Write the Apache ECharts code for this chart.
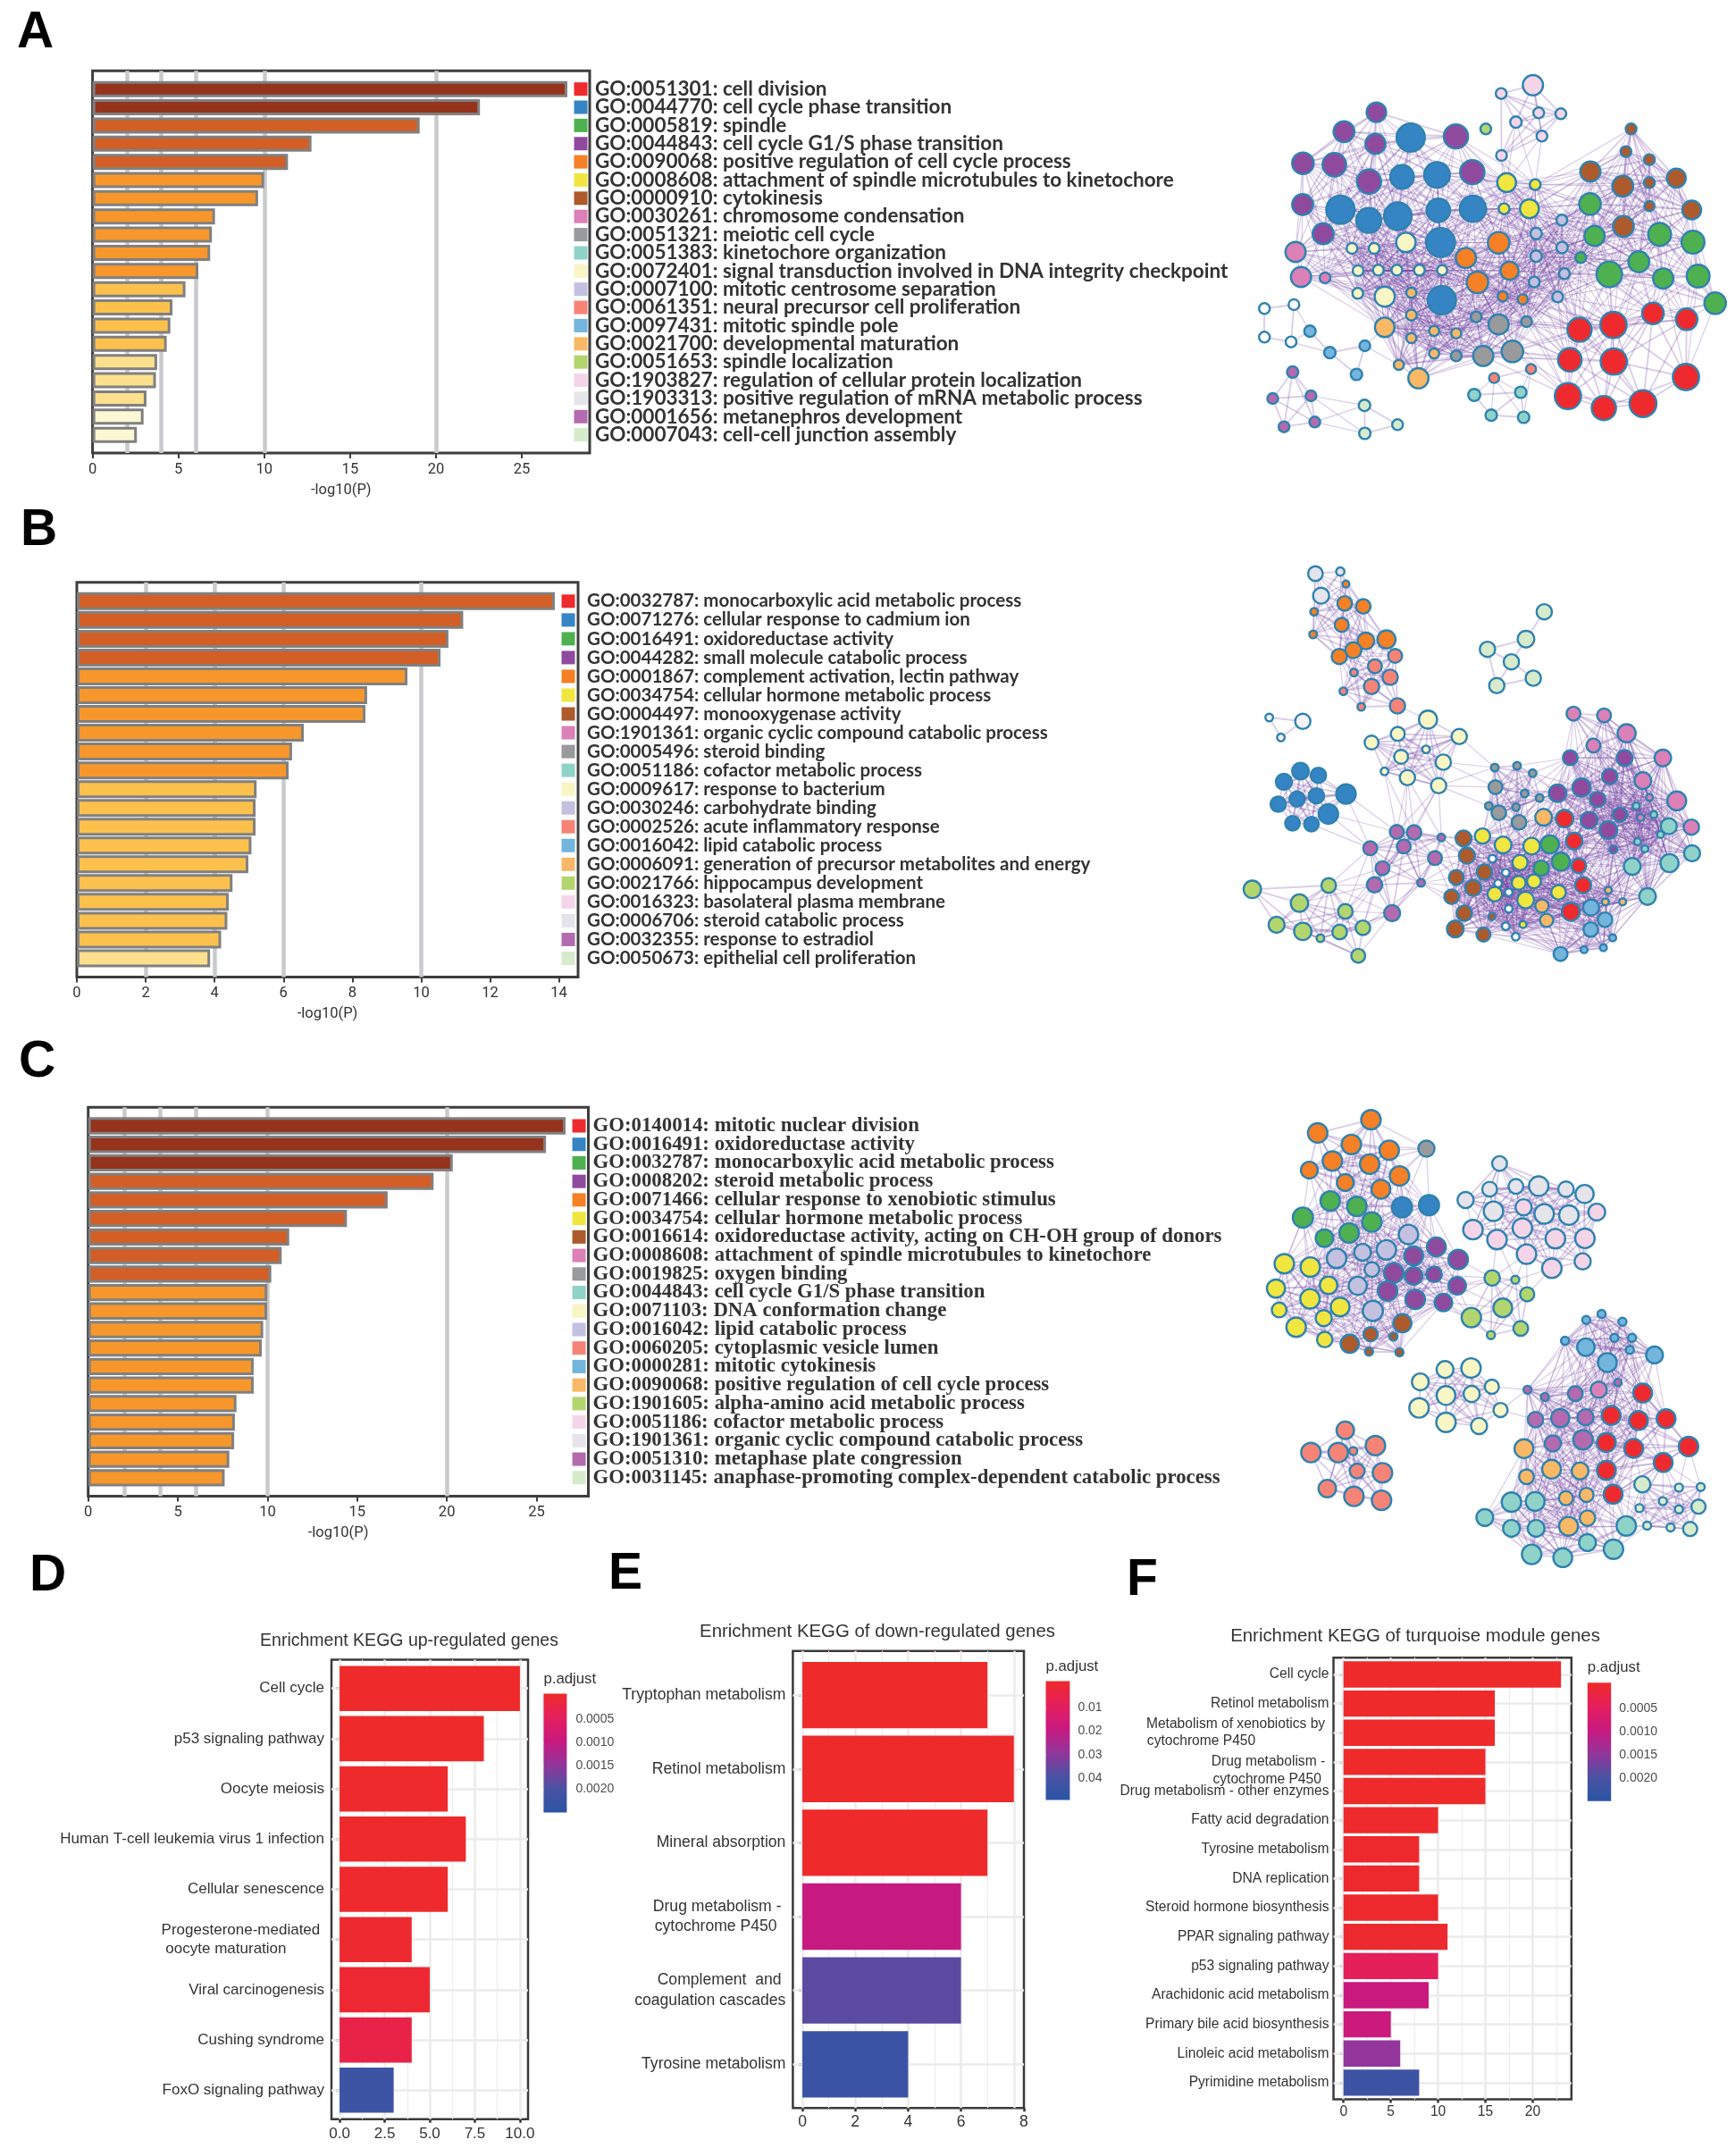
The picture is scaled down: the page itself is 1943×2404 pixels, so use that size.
<!DOCTYPE html>
<html>
<head>
<meta charset="utf-8">
<style>html,body{margin:0;background:#fff}#chart{width:1943px;height:2404px}</style>
<script src="https://cdn.jsdelivr.net/npm/echarts@6/dist/echarts.min.js"></script>
</head>
<body>
<div id="chart"></div>
<script>
// legend order of the GO terms, 20/21 are the near white nodes
const groupColors = ['#ee2a2e', '#3585c5', '#4fb050', '#8f4a9e', '#f58025', '#f0e63f', '#ad5a2c', '#dc80b8', '#999a9c', '#8fd3c8',
  '#f7f6c4', '#c3c0e0', '#f58477', '#73b5dd', '#f9b865', '#b3d56e', '#f4d5e8', '#e4e4ea', '#b36aae', '#d5ebcb', '#f5f2fa', '#ffffff']

const labelsA = ['GO:0051301: cell division', 'GO:0044770: cell cycle phase transition', 'GO:0005819: spindle', 'GO:0044843: cell cycle G1/S phase transition', 'GO:0090068: positive regulation of cell cycle process', 'GO:0008608: attachment of spindle microtubules to kinetochore', 'GO:0000910: cytokinesis', 'GO:0030261: chromosome condensation', 'GO:0051321: meiotic cell cycle', 'GO:0051383: kinetochore organization', 'GO:0072401: signal transduction involved in DNA integrity checkpoint', 'GO:0007100: mitotic centrosome separation', 'GO:0061351: neural precursor cell proliferation', 'GO:0097431: mitotic spindle pole', 'GO:0021700: developmental maturation', 'GO:0051653: spindle localization', 'GO:1903827: regulation of cellular protein localization', 'GO:1903313: positive regulation of mRNA metabolic process', 'GO:0001656: metanephros development', 'GO:0007043: cell-cell junction assembly']
const valuesA = [27.65, 22.56, 19.05, 12.75, 11.38, 9.99, 9.64, 7.13, 6.95, 6.85, 6.16, 5.41, 4.65, 4.53, 4.32, 3.76, 3.69, 3.14, 2.97, 2.58]
const ticksA = [0, 5, 10, 15, 20, 25]

const labelsB = ['GO:0032787: monocarboxylic acid metabolic process', 'GO:0071276: cellular response to cadmium ion', 'GO:0016491: oxidoreductase activity', 'GO:0044282: small molecule catabolic process', 'GO:0001867: complement activation, lectin pathway', 'GO:0034754: cellular hormone metabolic process', 'GO:0004497: monooxygenase activity', 'GO:1901361: organic cyclic compound catabolic process', 'GO:0005496: steroid binding', 'GO:0051186: cofactor metabolic process', 'GO:0009617: response to bacterium', 'GO:0030246: carbohydrate binding', 'GO:0002526: acute inflammatory response', 'GO:0016042: lipid catabolic process', 'GO:0006091: generation of precursor metabolites and energy', 'GO:0021766: hippocampus development', 'GO:0016323: basolateral plasma membrane', 'GO:0006706: steroid catabolic process', 'GO:0032355: response to estradiol', 'GO:0050673: epithelial cell proliferation']
const valuesB = [13.88, 11.22, 10.79, 10.56, 9.6, 8.43, 8.38, 6.59, 6.25, 6.15, 5.22, 5.19, 5.19, 5.07, 4.98, 4.52, 4.41, 4.37, 4.19, 3.87]
const ticksB = [0, 2, 4, 6, 8, 10, 12, 14]

const labelsC = ['GO:0140014: mitotic nuclear division', 'GO:0016491: oxidoreductase activity', 'GO:0032787: monocarboxylic acid metabolic process', 'GO:0008202: steroid metabolic process', 'GO:0071466: cellular response to xenobiotic stimulus', 'GO:0034754: cellular hormone metabolic process', 'GO:0016614: oxidoreductase activity, acting on CH-OH group of donors', 'GO:0008608: attachment of spindle microtubules to kinetochore', 'GO:0019825: oxygen binding', 'GO:0044843: cell cycle G1/S phase transition', 'GO:0071103: DNA conformation change', 'GO:0016042: lipid catabolic process', 'GO:0060205: cytoplasmic vesicle lumen', 'GO:0000281: mitotic cytokinesis', 'GO:0090068: positive regulation of cell cycle process', 'GO:1901605: alpha-amino acid metabolic process', 'GO:0051186: cofactor metabolic process', 'GO:1901361: organic cyclic compound catabolic process', 'GO:0051310: metaphase plate congression', 'GO:0031145: anaphase-promoting complex-dependent catabolic process']
const valuesC = [26.62, 25.53, 20.33, 19.26, 16.7, 14.43, 11.21, 10.79, 10.21, 9.99, 9.98, 9.76, 9.68, 9.23, 9.23, 8.27, 8.18, 8.14, 7.87, 7.61]
const ticksC = [0, 5, 10, 15, 20, 25]

const guideLines = [2, 4, 6, 10, 20]

const labelsD = ['Cell cycle', 'p53 signaling pathway', 'Oocyte meiosis', 'Human T-cell leukemia virus 1 infection', 'Cellular senescence', 'Progesterone-mediated \noocyte maturation         ', 'Viral carcinogenesis', 'Cushing syndrome', 'FoxO signaling pathway']
const valuesD = [10, 8, 6, 7, 6, 4, 5, 4, 3]
const padjD = [0.00001, 0.00001, 0.00002, 0.00002, 0.00002, 0.00006, 0.00008, 0.0003, 0.0022]
const ticksD = [0, 2.5, 5, 7.5, 10]
const minorD = [1.25, 3.75, 6.25, 8.75]
const legendD = [0.0005, 0.001, 0.0015, 0.002]

const labelsE = ['Tryptophan metabolism', 'Retinol metabolism', 'Mineral absorption', 'Drug metabolism - \ncytochrome P450  ', 'Complement  and \ncoagulation cascades', 'Tyrosine metabolism']
const valuesE = [7, 8, 7, 6, 6, 4]
const padjE = [0.0002, 0.0002, 0.0002, 0.02, 0.037, 0.044]
// the 8 sits on the right edge of the frame in the picture, not at 8 on the scale
const ticksE = [0, 2, 4, 6, 8.38]
const gridE = [0, 2, 4, 6, 8]
const minorE = [1, 3, 5, 7]
const legendE = [0.01, 0.02, 0.03, 0.04]

const labelsF = ['Cell cycle', 'Retinol metabolism', 'Metabolism of xenobiotics by \ncytochrome P450                   ', ' \nDrug metabolism - \ncytochrome P450  ', 'Drug metabolism - other enzymes', 'Fatty acid degradation', 'Tyrosine metabolism', 'DNA replication', 'Steroid hormone biosynthesis', 'PPAR signaling pathway', 'p53 signaling pathway', 'Arachidonic acid metabolism', 'Primary bile acid biosynthesis', 'Linoleic acid metabolism', 'Pyrimidine metabolism']
const valuesF = [23, 16, 16, 15, 15, 10, 8, 8, 10, 11, 10, 9, 5, 6, 8]
const padjF = [0.00001, 0.00001, 0.00001, 0.00001, 0.00001, 0.00002, 0.00003, 0.00003, 0.00003, 0.00006, 0.00048, 0.00098, 0.00095, 0.0015, 0.0022]
const ticksF = [0, 5, 10, 15, 20]
const minorF = [2.5, 7.5, 12.5, 17.5, 22.5]
const legendF = [0.0005, 0.001, 0.0015, 0.002]

// network nodes: x, y, radius, group
const nodesA = [[447,197,29,3],[346,262,31,3],[444,303,30,3],[695,278,36,3],[218,368,32,3],[316,373,35,3],[424,430,36,3],[746,398,36,3],[217,507,31,3],[281,605,31,3],
  [554,282,42,1],[527,414,35,1],[636,407,38,1],[335,524,42,1],[423,560,37,1],[514,546,41,1],[640,526,35,1],[748,521,39,1],[647,634,43,1],[651,828,42,1],
  [788,253,16,15],[935,106,30,16],[836,134,16,16],[882,230,17,16],[953,199,16,16],[1022,202,16,16],[963,277,16,16],[837,342,16,16],
  [853,433,28,5],[942,440,16,5],[845,521,16,5],[924,521,28,5],
  [1241,253,16,6],[1225,329,16,6],[1298,356,16,6],[1114,396,30,6],[1215,445,31,6],[1298,433,16,6],[1382,418,28,6],[1298,512,15,6],[1430,525,28,6],[1217,580,31,6],
  [1113,505,32,2],[1127,612,30,2],[1330,607,34,2],[1434,633,34,2],[1084,685,16,2],[1265,699,31,2],[1173,741,38,2],[1341,755,30,2],[1450,747,34,2],[1503,838,32,2],
  [1025,559,16,11],[945,604,17,11],[1026,651,17,11],[945,680,17,11],[1033,739,16,11],[939,767,16,11],[1012,817,16,11],
  [828,635,32,4],[726,686,30,4],[862,729,27,4],[762,768,32,4],[841,815,15,4],[903,825,15,4],
  [539,634,29,10],[371,654,16,10],[440,654,16,10],[390,729,16,10],[453,727,16,10],[511,727,16,10],[581,727,16,10],[652,727,15,10],[389,805,16,10],[473,816,30,10],
  [195,666,30,7],[212,750,30,7],[287,753,16,7],
  [556,803,15,14],[556,878,16,14],[473,919,29,14],[556,955,15,14],[627,931,15,14],[696,939,15,14],[627,1007,15,14],[517,1045,15,14],[578,1090,30,14],
  [758,884,16,8],[828,909,30,8],[915,900,16,8],[871,1000,32,8],[780,1015,30,8],[696,1015,16,8],
  [240,932,17,13],[302,1004,17,13],[411,981,16,13],[385,1077,17,13],
  [98,856,16,21],[190,843,16,21],[98,952,16,21],[181,968,16,21],
  [186,1069,17,18],[124,1158,16,18],[243,1149,16,18],[159,1253,16,18],[255,1237,16,18],
  [410,1181,17,19],[513,1246,16,19],[411,1275,17,19],
  [929,1059,15,12],[814,1089,15,12],
  [752,1146,18,9],[897,1137,17,9],[805,1214,17,9],[906,1221,17,9],
  [1080,927,36,0],[1186,911,39,0],[1309,872,32,0],[1414,892,32,0],[1050,1028,35,0],[1187,1034,39,0],[1412,1086,39,0],[1044,1150,39,0],[1156,1190,36,0],[1278,1175,40,0]]

const nodesB = [[302,66,21,17],[377,59,12,17],[319,140,23,17],
  [394,101,10,4],[390,166,21,4],[446,176,21,4],[298,194,11,4],[381,238,20,4],[295,270,11,4],[454,292,24,4],[516,287,26,4],[416,323,23,4],[374,344,22,4],
  [542,342,20,12],[481,377,20,12],[418,398,11,12],[527,414,22,12],[471,445,22,12],[386,461,11,12],[440,513,11,12],[549,510,22,12],
  [991,194,22,19],[936,286,24,19],[820,320,22,19],[892,362,22,19],[958,417,22,19],[848,442,22,19],
  [163,549,11,20],[264,562,22,20],[198,616,11,20],
  [641,556,26,10],[550,604,20,10],[471,633,20,10],[735,613,22,10],[635,656,11,10],[560,681,20,10],[687,699,22,10],[510,730,11,10],[579,751,22,10],[673,778,22,10],
  [257,729,24,1],[311,743,22,1],[207,765,23,1],[394,806,28,1],[305,812,22,1],[247,823,22,1],[190,840,22,1],[341,873,28,1],[233,904,21,1],[290,907,21,1],
  [842,717,11,8],[909,711,11,8],[956,736,11,8],[844,783,20,8],[932,804,11,8],[977,819,11,8],[824,846,11,8],[906,850,11,8],[854,869,21,8],[915,901,21,8],
  [547,933,20,18],[599,935,21,18],[681,952,11,18],[568,982,20,18],[467,988,20,18],[662,1021,20,18],[504,1055,20,18],[620,1104,11,18],[480,1111,22,18],[533,1206,23,18],
  [112,1126,25,15],[342,1113,21,15],[254,1172,25,15],[392,1200,21,15],[185,1245,23,15],[264,1267,25,15],[375,1269,21,15],[445,1255,21,15],[317,1290,11,15],[431,1349,20,15],
  [748,955,23,6],[758,1013,23,6],[811,1068,22,6],[726,1086,21,6],[777,1121,23,6],[712,1151,21,6],[750,1206,22,6],[833,1218,10,6],[723,1259,24,6],[808,1278,20,6],
  [805,947,22,5],[867,977,24,5],[953,981,24,5],[918,1036,22,5],[914,1104,20,5],[960,1099,20,5],[842,1142,21,5],[1034,1136,21,5],[935,1162,24,5],[927,1244,10,5],
  [835,1023,11,21],[875,1070,11,21],[852,1106,11,21],[884,1136,11,21],[884,1191,11,21],[875,1250,11,21],[905,1285,11,21],
  [1008,975,26,2],[1041,1033,26,2],[982,1055,22,2],
  [1052,889,25,0],[1081,964,24,0],[1095,1047,21,0],[1108,1112,23,0],[1071,1201,26,0],
  [989,884,24,14],[984,1182,19,14],[998,1230,19,14],[1184,1129,10,14],[1175,1168,10,14],[1227,1168,10,14],
  [1031,803,25,3],[1103,784,26,3],[1188,747,22,3],[1069,684,21,3],[1233,685,23,3],[1152,824,22,3],[1126,894,24,3],[1219,875,20,3],[1184,927,25,3],[1199,992,11,3],
  [1079,536,20,7],[1171,542,20,7],[1239,602,26,7],[1139,643,20,7],[1348,685,24,7],[1288,761,24,7],[1390,829,27,7],[1308,817,10,7],[1281,885,10,7],[1434,917,22,7],
  [1268,846,10,9],[1321,875,10,9],[1366,914,23,9],[1341,942,10,9],[1272,966,10,9],[1294,990,10,9],[1256,1049,24,9],[1368,1038,26,9],[1436,1005,23,9],[1302,1150,24,9],
  [1132,1187,23,13],[1174,1228,21,13],[1131,1261,21,13],[1197,1289,10,13],[1169,1322,10,13],[1111,1329,10,13],[1040,1343,20,13]]

const nodesC = [[430,98,29,4],[264,142,29,4],[369,180,29,4],[487,199,29,4],[310,235,29,4],[426,245,29,4],[238,265,25,4],[519,284,29,4],[350,306,25,4],[461,328,28,4],
  [603,194,24,8],[527,388,30,1],[611,381,30,1],
  [303,367,29,2],[386,385,29,2],[218,422,30,2],[433,437,29,2],[362,473,29,2],[285,490,26,2],
  [547,478,29,11],[404,537,25,11],[478,529,29,11],[323,557,29,11],[433,594,22,11],[389,648,27,11],[436,731,30,11],
  [634,519,28,3],[563,549,28,3],[702,561,29,3],[501,605,29,3],[563,615,26,3],[627,610,23,3],[699,648,26,3],[482,665,29,3],[568,693,29,3],[656,703,26,3],
  [160,575,29,5],[241,586,29,5],[134,657,27,5],[298,646,26,5],[240,691,29,5],[334,718,28,5],[144,728,22,5],[283,755,24,5],[197,785,29,5],[286,826,23,5],
  [528,772,27,6],[429,808,21,6],[364,840,27,6],[500,816,12,6],[424,866,12,6],[519,868,12,6],
  [808,622,23,15],[880,628,12,15],[917,676,21,15],[841,721,28,15],[743,753,29,15],[897,789,22,15],[804,811,12,15],
  [831,243,22,17],[800,328,22,17],[882,319,22,17],[953,318,29,17],[1038,328,23,17],[1096,344,27,17],[725,364,24,17],[812,401,29,17],[970,410,29,17],[1047,414,29,17],
  [906,388,24,16],[1134,404,25,16],[748,462,29,16],[902,457,29,16],[823,495,29,16],[1005,492,29,16],[1097,491,29,16],[915,543,29,16],[1090,567,24,16],[994,590,29,16],
  [1101,761,12,13],[1149,741,12,13],[1214,767,12,13],[1189,820,12,13],[1244,820,12,13],[1035,830,12,13],[1237,860,12,13],[1100,851,26,13],[1314,877,25,13],[1167,902,28,13],
  [661,925,25,10],[742,920,29,10],[584,966,25,10],[807,982,21,10],[664,1011,28,10],[744,1006,24,10],[580,1052,29,10],[834,1059,21,10],[664,1100,29,10],[767,1112,24,10],
  [918,992,12,18],[972,1016,12,18],[1067,1005,22,18],[1200,968,11,18],[943,1091,23,18],[1020,1086,27,18],[1099,1083,24,18],[997,1170,24,18],[1091,1158,29,18],
  [1140,992,24,7],
  [1277,1003,28,0],[1179,1077,28,0],[1264,1094,28,0],[1350,1088,28,0],[1164,1167,28,0],[1249,1186,28,0],[1420,1180,29,0],[1341,1233,28,0],[1164,1259,28,0],[1185,1338,28,0],
  [907,1187,28,14],[993,1255,28,14],[1082,1261,25,14],[915,1280,22,14],[1038,1351,21,14],[1102,1340,21,14],[1105,1417,23,14],[1046,1444,28,14],
  [350,1126,26,12],[444,1177,29,12],[243,1200,29,12],[328,1200,29,12],[375,1195,12,12],[387,1261,22,12],[466,1267,29,12],[294,1319,26,12],[377,1345,29,12],[463,1358,29,12],
  [1276,1305,24,19],[1390,1316,12,19],[1458,1314,12,19],[1340,1361,12,19],[1390,1388,12,19],[1451,1379,21,19],[1267,1384,12,19],[1291,1442,12,19],[1364,1448,12,19],[1425,1453,21,19],
  [868,1364,29,9],[942,1362,28,9],[785,1415,25,9],[868,1451,25,9],[945,1451,25,9],[1226,1443,29,9],[1105,1498,25,9],[1186,1520,29,9],[931,1537,29,9],[1028,1548,28,9]]

// the single edges can't be read from the picture, so they are approximated:
// two nodes are joined when their groups share a rule and they are closer than its distance
const linkRulesA = [[[0,1,2,3,4,5,6,7,8,10,11,14], 360], [[16,5,11], 240], [[21,13], 130], [[13,14], 130], [[18,19], 240], [[9,12], 170]]
const linkRulesB = [[[17,4,12], 210], [[10], 290], [[1], 190], [[8,5,3], 200], [[0,2,3,5,6,7,9,13,14,21], 270], [[18,15], 240], [[19], 130], [[20], 140], [[10,12], 110], [[10,8], 180], [[1,18], 230], [[10,18], 240], [[18,6], 180], [[3,7,9], 350]]
const linkRulesC = [[[4,8,1,2,11,3,5,6], 270], [[17,16], 250], [[15,3], 190], [[15,16], 170], [[13], 230], [[10], 250], [[12], 230], [[0,13,18,7,14,9], 300], [[19], 200], [[19,0,9], 170], [[10,18], 130]]

// panel geometry, in page pixels
const panelA = { labels: labelsA, values: valuesA, ticks: ticksA, rect: [103.6, 79.3, 556.4, 427.7], max: 28.95, swatch: 28.43, barWidth: 18, fontSize: 22.5, family: 'Lato', labelGap: 6 }
const panelB = { labels: labelsB, values: valuesB, ticks: ticksB, rect: [86, 651.8, 561, 441.7], max: 14.555, swatch: 14.27, barWidth: 20, fontSize: 20.5, family: 'Lato', labelGap: 10 }
const panelC = { labels: labelsC, values: valuesC, ticks: ticksC, rect: [98.7, 1239.3, 559.8, 435.2], max: 27.89, swatch: 27.37, barWidth: 19.3, fontSize: 22.8, family: '"Liberation Serif"', labelGap: 5 }

const panelD = { title: 'Enrichment KEGG up-regulated genes', titleX: 458, titleY: 1836.5, titleSize: 19.5, labels: labelsD, values: valuesD, padj: padjD, ticks: ticksD, gridTicks: ticksD, minor: minorD, digits: 1, frame: [371, 1857.4, 220, 514.4], innerTop: 1861.6, step: 56.2, min: -0.45, max: 10.45, fontSize: 17, family: '"Liberation Sans"', margin: 8, tickGap: 8,
  legend: legendD, legendDigits: 4, bar: [608.4, 1895.4, 26, 133.1], barRange: [-0.00006, 0.0025], legendTitleY: 1879, legendGap: 10 }
const panelE = { title: 'Enrichment KEGG of down-regulated genes', titleX: 982, titleY: 1826.5, titleSize: 20.4, labels: labelsE, values: valuesE, padj: padjE, ticks: ticksE, gridTicks: gridE, minor: minorE, digits: 0, frame: [887.4, 1847.8, 258.6, 511.4], innerTop: 1855.8, step: 82.64, min: -0.36, max: 8.38, fontSize: 17.6, family: '"Liberation Sans"', margin: 8, tickGap: 7,
  legend: legendE, legendDigits: 2, bar: [1170.5, 1881.4, 26.9, 133.1], barRange: [-0.001, 0.049], legendTitleY: 1865.3, legendGap: 9 }
const panelF = { title: 'Enrichment KEGG of turquoise module genes', titleX: 1584, titleY: 1831.7, titleSize: 20.4, labels: labelsF, values: valuesF, padj: padjF, ticks: ticksF, gridTicks: ticksF, minor: minorF, digits: 0, frame: [1492.5, 1855.3, 266.3, 494.3], innerTop: 1857.7, step: 32.63, min: -1.06, max: 24.1, fontSize: 15.6, family: '"Liberation Sans"', margin: 5, tickGap: 6,
  legend: legendF, legendDigits: 4, bar: [1776.8, 1883.2, 26.4, 132.6], barRange: [-0.00006, 0.0025], legendTitleY: 1866.2, legendGap: 9 }

const panelLetters = [['A', 19, 37], ['B', 23, 594], ['C', 21, 1189], ['D', 33, 1764], ['E', 681, 1762], ['F', 1261, 1769]]
const rampColors = ['#ee2a2a', '#e51f5c', '#c8197f', '#93359a', '#4a52a3', '#2a55a5']

const grids = []
const xAxes = []
const yAxes = []
const series = []
const visualMaps = []
const titles = []

function levelColor(v) {
  if (v >= 20) return '#95331c'
  if (v >= 10) return '#d35f26'
  if (v >= 6) return '#f7972b'
  if (v >= 4) return '#fcc14d'
  if (v >= 3) return '#fde08d'
  return '#fbf8d3'
}

function goPanel(p) {
  const g = grids.length
  grids.push({ left: p.rect[0], top: p.rect[1], width: p.rect[2], height: p.rect[3], show: true, borderColor: '#3d3d3d', borderWidth: 3 })
  xAxes.push({
    gridIndex: g, type: 'value', min: 0, max: p.max,
    name: '-log10(P)', nameLocation: 'middle', nameGap: 33,
    nameTextStyle: { fontFamily: 'Roboto', fontSize: 16.5, color: '#333' },
    axisLine: { show: false },
    axisTick: { show: true, length: 6, customValues: p.ticks, lineStyle: { color: '#3d3d3d', width: 2 } },
    axisLabel: { customValues: p.ticks, margin: 10, fontFamily: 'Roboto', fontSize: 16.5, color: '#333' },
    splitLine: { show: false }
  })
  yAxes.push({
    gridIndex: g, type: 'category', inverse: true, boundaryGap: false, position: 'right',
    data: [''].concat(p.labels, ['']),
    axisLine: { show: false }, axisTick: { show: false }, splitLine: { show: false },
    axisLabel: { interval: 0, margin: p.labelGap, fontFamily: p.family, fontSize: p.fontSize, fontWeight: 'bold', color: '#333' }
  })
  series.push({
    type: 'bar', xAxisIndex: g, yAxisIndex: g, z: 3, barWidth: p.barWidth, silent: true,
    data: ['-'].concat(p.values, ['-']),
    itemStyle: { color: (d) => levelColor(d.value), borderColor: '#808080', borderWidth: 3 },
    markLine: {
      z: 1, silent: true, symbol: 'none', label: { show: false }, animation: false,
      lineStyle: { type: 'solid', color: '#c8cacc', width: 4.5 },
      data: guideLines.map((v) => ({ xAxis: v }))
    }
  })
  series.push({
    type: 'scatter', xAxisIndex: g, yAxisIndex: g, z: 4, symbol: 'rect', symbolSize: 15, silent: true,
    data: p.labels.map((_, i) => [p.swatch, i + 1]),
    itemStyle: { color: (d) => groupColors[d.dataIndex], opacity: 1 }
  })
}

function keggPanel(p) {
  const width = p.frame[2]
  // outer grid only holds the frame, the x axis and its guide lines
  const outer = grids.length
  grids.push({ left: p.frame[0], top: p.frame[1], width: width, height: p.frame[3], show: true, borderColor: '#3a3a3a', borderWidth: 2.5 })
  xAxes.push({
    gridIndex: outer, type: 'value', min: p.min, max: p.max,
    axisLine: { show: false }, splitLine: { show: false },
    axisTick: { show: true, length: 4, customValues: p.ticks, lineStyle: { color: '#333', width: 2.5 } },
    axisLabel: { customValues: p.ticks, margin: p.tickGap, fontFamily: p.family, fontSize: p.fontSize, color: '#333', formatter: (v) => v.toFixed(p.digits) }
  })
  yAxes.push({ gridIndex: outer, type: 'value', min: 0, max: 1, show: false })
  series.push({
    type: 'line', xAxisIndex: outer, yAxisIndex: outer, z: 1, showSymbol: false, silent: true, data: [[0, 0.5]],
    markLine: {
      z: 1, silent: true, symbol: 'none', label: { show: false }, animation: false,
      data: p.gridTicks.map((v) => ({ xAxis: v, lineStyle: { type: 'solid', color: '#ebebeb', width: 2.5 } }))
        .concat(p.minor.map((v) => ({ xAxis: v, lineStyle: { type: 'solid', color: '#ededed', width: 1.2 } })))
    }
  })
  // inner grid holds the bands of the categories
  const inner = grids.length
  grids.push({ left: p.frame[0], top: p.innerTop, width: width, height: p.step * p.labels.length })
  xAxes.push({ gridIndex: inner, type: 'value', min: p.min, max: p.max, show: false })
  yAxes.push({
    gridIndex: inner, type: 'category', inverse: true, data: p.labels,
    axisLine: { show: false }, splitLine: { show: false },
    axisTick: { show: true, alignWithLabel: true, length: 4, lineStyle: { color: '#333', width: 2.5 } },
    axisLabel: { interval: 0, margin: p.margin, fontFamily: p.family, fontSize: p.fontSize, color: '#333', lineHeight: p.fontSize * 1.27 }
  })
  series.push({
    type: 'bar', xAxisIndex: inner, yAxisIndex: inner, z: 3, barWidth: '90%', silent: true,
    encode: { x: 0, y: 1 },
    data: p.values.map((v, i) => [v, i, p.padj[i]]),
    markLine: {
      z: 1, silent: true, symbol: 'none', label: { show: false }, animation: false,
      lineStyle: { type: 'solid', color: '#ebebeb', width: 2.5 },
      data: p.labels.map((_, i) => ({ yAxis: i }))
    }
  })
  visualMaps.push({ show: false, seriesIndex: series.length - 1, dimension: 2, min: 0, max: p.barRange[1], inRange: { color: rampColors } })
  titles.push({ text: p.title, left: p.titleX, top: p.titleY - p.titleSize / 2, textAlign: 'center', padding: 0, textStyle: { fontFamily: p.family, fontSize: p.titleSize, fontWeight: 'normal', color: '#333' } })

  // colour bar: its own little axis with the ramp as grid background
  const bar = grids.length
  grids.push({
    left: p.bar[0], top: p.bar[1], width: p.bar[2], height: p.bar[3], show: true, borderWidth: 0,
    backgroundColor: new echarts.graphic.LinearGradient(0, 0, 0, 1, rampColors.map((c, i) => ({ offset: i / (rampColors.length - 1), color: c })))
  })
  xAxes.push({ gridIndex: bar, type: 'value', min: 0, max: 1, show: false })
  yAxes.push({
    gridIndex: bar, type: 'value', inverse: true, position: 'right', min: p.barRange[0], max: p.barRange[1],
    axisLine: { show: false }, splitLine: { show: false },
    axisTick: { show: true, inside: true, length: 5, customValues: p.legend, lineStyle: { color: 'rgba(255,255,255,0.7)', width: 1.5 } },
    axisLabel: { customValues: p.legend, margin: p.legendGap, fontFamily: '"Liberation Sans"', fontSize: 14, color: '#4d4d4d', formatter: (v) => v.toFixed(p.legendDigits) }
  })
  titles.push({ text: 'p.adjust', left: p.bar[0], top: p.legendTitleY - 8.5, padding: 0, textStyle: { fontFamily: '"Liberation Sans"', fontSize: 16.8, fontWeight: 'normal', color: '#333' } })
}

function networkPanel(nodes, rules, rect, xScale, yScale) {
  const g = grids.length
  grids.push({ left: rect[0], top: rect[1], width: rect[2], height: rect[3] })
  xAxes.push({ gridIndex: g, type: 'value', min: 0, max: rect[2] * xScale, show: false })
  yAxes.push({ gridIndex: g, type: 'value', inverse: true, min: 0, max: rect[3] * yScale, show: false })
  const links = []
  nodes.forEach((a, i) => {
    nodes.forEach((b, j) => {
      if (j <= i) return
      const dist = Math.hypot(a[0] - b[0], a[1] - b[1])
      const reach = Math.max(0, ...rules.filter((r) => r[0].includes(a[3]) && r[0].includes(b[3])).map((r) => r[1]))
      if (dist < reach) links.push({ source: i, target: j, lineStyle: { width: a[3] === b[3] ? 1.8 : 1.2 } })
    })
  })
  series.push({
    type: 'graph', coordinateSystem: 'cartesian2d', xAxisIndex: g, yAxisIndex: g, layout: 'none', z: 2, silent: true, animation: false,
    data: nodes.map((n) => ({
      value: [n[0], n[1]],
      symbolSize: n[2] * 2.1 / xScale,
      itemStyle: { color: groupColors[n[3]], borderColor: '#2f82b0', borderWidth: 2.4 }
    })),
    links: links,
    lineStyle: { color: '#7243a3', opacity: 0.27, curveness: 0 }
  })
}

const chart = echarts.init(document.getElementById('chart'), null, { renderer: 'canvas' })

goPanel(panelA)
goPanel(panelB)
goPanel(panelC)
keggPanel(panelD)
keggPanel(panelE)
keggPanel(panelF)
networkPanel(nodesA, linkRulesA, [1380, 60, 563, 470], 2.785, 3)
networkPanel(nodesB, linkRulesB, [1360, 620, 583, 480], 2.69, 3)
networkPanel(nodesC, linkRulesC, [1380, 1220, 563, 530], 2.785, 2.958)

chart.setOption({
  backgroundColor: '#fff',
  animation: false,
  title: titles,
  grid: grids,
  xAxis: xAxes,
  yAxis: yAxes,
  visualMap: visualMaps,
  series: series,
  graphic: panelLetters.map((l) => ({
    type: 'text', silent: true,
    style: { text: l[0], x: l[1], y: l[2], textVerticalAlign: 'middle', fill: '#000', font: 'bold 57px "Liberation Sans"' }
  }))
})

window.addEventListener('resize', () => chart.resize())
</script>
</body>
</html>
